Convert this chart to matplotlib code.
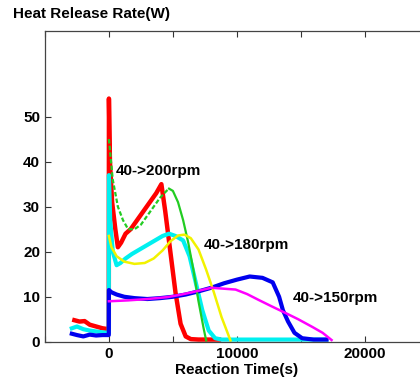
import matplotlib
matplotlib.use("Agg")
import matplotlib.pyplot as plt
from matplotlib.ticker import MultipleLocator

plt.rcParams['font.family'] = ['Liberation Sans', 'DejaVu Sans']

# 40->200rpm experiment (red) and model (green)
red_t = [-2700, -2300, -1900, -1500, -1000, -500, -10, 0, 80, 250, 500, 700, 950, 1300,
         1700, 2200, 2700, 3200, 3700, 4100, 4400, 4800, 5200, 5600, 6000, 6400, 7000, 8600]
red_y = [4.8, 4.5, 4.6, 3.8, 3.4, 3.0, 2.8, 54, 40, 31, 25, 21, 22, 24,
         25, 27, 29, 31, 33, 35, 29, 20, 11, 4, 1.2, 0.6, 0.5, 0.5]
green_rise_t = [0, 300, 700, 1100, 1500, 2000, 2500, 3000, 3500, 4000, 4500, 4700]
green_rise_y = [45, 36, 30, 27, 25, 25, 26, 28, 30, 32, 33.5, 34]
green_fall_t = [4700, 5000, 5400, 5800, 6200, 6600, 7000, 7400, 7600]
green_fall_y = [34, 33.5, 31, 27, 22, 16, 9, 3, 0.3]

# 40->180rpm experiment (cyan) and model (yellow)
cyan_t = [-2900, -2500, -2000, -1500, -1000, -500, -10, 0, 100, 300, 600, 900, 1300, 1800,
          2400, 3000, 3600, 4200, 4700, 5200, 5800, 6300, 6800, 7300, 7800, 8300, 8800, 17000]
cyan_y = [3.0, 3.4, 2.8, 2.5, 2.3, 2.1, 2.0, 37, 27, 20, 17, 17.5, 18.5, 19.5,
          20.5, 21.5, 22.5, 23.5, 24, 23.5, 22.5, 19, 13, 7, 2.5, 0.8, 0.5, 0.5]
yellow_t = [0, 200, 600, 1200, 2000, 2800, 3500, 4200, 4800, 5400, 5900, 6400, 7000,
            7600, 8200, 8800, 9500]
yellow_y = [23.5, 21, 19, 17.8, 17.3, 17.5, 18.5, 20.3, 22.3, 23.6, 23.8, 23, 20.5,
            16, 11, 5.5, 0.3]

# 40->150rpm experiment (blue) and model (magenta)
blue_t = [-2900, -2500, -2000, -1500, -1000, -500, -10, 0, 200, 600, 1200, 2000, 3000, 4000,
          5000, 6000, 7000, 8000, 9000, 10000, 11000, 12000, 12800, 13300, 13600, 14000,
          14500, 15100, 16000, 17000]
blue_y = [1.8, 1.5, 1.2, 1.6, 1.4, 1.5, 1.5, 11.5, 11, 10.5, 10, 9.7, 9.5, 9.7,
          10, 10.5, 11.2, 12, 13, 13.8, 14.5, 14.2, 13.2, 10, 7, 4.5,
          2, 0.8, 0.5, 0.5]
mag_t = [0, 1500, 3000, 4500, 5500, 6500, 8000, 9900, 10800, 11700, 12700, 13800, 14800,
         15900, 16700, 17400]
mag_y = [9.0, 9.2, 9.5, 9.9, 10.4, 11.0, 12.0, 11.6, 10.6, 9.3, 7.9, 6.4, 5.0,
         3.3, 2.0, 0.4]

labels = ["40->200rpm", "40->180rpm", "40->150rpm"]
label_pos = [(500, 38), (7400, 21.5), (14400, 9.8)]

fig = plt.figure(figsize=(4.2, 3.92), dpi=100)
ax = fig.add_axes([0.107, 0.128, 0.914, 0.793])

ax.plot(red_t, red_y, color='#ff0000', lw=3.2)
ax.plot(cyan_t, cyan_y, color='#00f0f0', lw=3.0)
ax.plot(blue_t, blue_y, color='#0000ee', lw=3.0)
ax.plot(green_rise_t, green_rise_y, color='#22cc22', lw=1.6, ls=(0, (2, 1)))
ax.plot(green_fall_t, green_fall_y, color='#22cc22', lw=1.6)
ax.plot(yellow_t, yellow_y, color='#f2f200', lw=1.8)
ax.plot(mag_t, mag_y, color='#ff00ff', lw=1.8)

for txt, (tx, ty) in zip(labels, label_pos):
    ax.text(tx, ty, txt, fontsize=11, fontweight='bold', va='center', ha='left')

ax.set_xlim(-5000, 25000)
ax.set_ylim(0, 69)
ax.set_xticks([0, 10000, 20000])
ax.xaxis.set_minor_locator(MultipleLocator(5000))
ax.set_yticks([0, 10, 20, 30, 40, 50])
ax.tick_params(which='both', direction='in', top=True, right=False, length=4,
               labelsize=11, width=0.8, color='#333333')
for lab in ax.get_xticklabels() + ax.get_yticklabels():
    lab.set_fontweight('bold')
for sp in ax.spines.values():
    sp.set_color('#444444')
    sp.set_linewidth(0.9)

ax.set_xlabel("Reaction Time(s)", fontsize=11, fontweight='bold', labelpad=2)
fig.text(0.03, 0.965, "Heat Release Rate(W)", fontsize=11, fontweight='bold',
         va='center', ha='left')

fig.savefig("out.png", dpi=100)
